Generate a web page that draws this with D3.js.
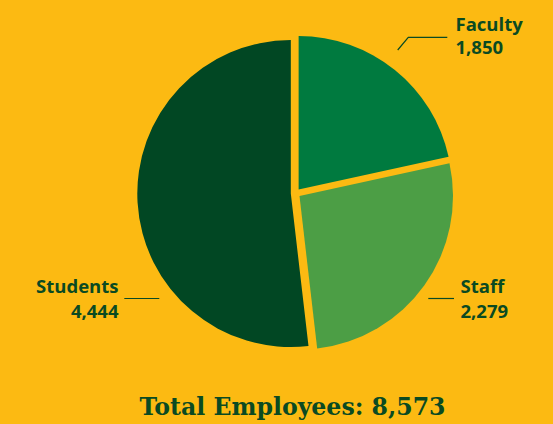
<!DOCTYPE html>
<html>
<head>
<meta charset="utf-8">
<script src="https://cdn.jsdelivr.net/npm/d3@7"></script>
<style>
  html, body { margin: 0; padding: 0; background: #FCBA12; }
  svg { display: block; }
</style>
</head>
<body>
<svg id="chart" width="553" height="424"></svg>
<script>
// ---- data ----
const categories = ["Faculty", "Staff", "Students"];
const values = [1850, 2279, 4444];
const valueLabels = ["1,850", "2,279", "4,444"];
const totalLabel = "Total Employees: 8,573";

// ---- styles ----
const bg = "#FCBA12";
const sliceColors = ["#007A3F", "#4C9E45", "#014723"];
const textColor = "#0A4A22";

const W = 553, H = 424;
const cx = 295.6, cy = 193.3, R = 153.5, explode = 4.8;

const svg = d3.select("#chart");
svg.append("rect").attr("width", W).attr("height", H).attr("fill", bg);

const data = categories.map((c, i) => ({ name: c, value: values[i], label: valueLabels[i], color: sliceColors[i] }));

const pie = d3.pie().value(d => d.value).sort(null).startAngle(0).endAngle(2 * Math.PI);
const arc = d3.arc().innerRadius(0).outerRadius(R);

const g = svg.append("g").attr("transform", `translate(${cx},${cy})`);
g.selectAll("path")
  .data(pie(data))
  .join("path")
  .attr("d", arc)
  .attr("fill", d => d.data.color)
  .attr("transform", d => {
    const a = (d.startAngle + d.endAngle) / 2;
    return `translate(${explode * Math.sin(a)},${-explode * Math.cos(a)})`;
  });

// ---- labels ----
const labelFont = "'Open Sans', sans-serif";
const fs = 18.5;
const labelSpecs = [
  { i: 0, x: 455.5, y1: 30.5, y2: 54, anchor: "start", line: [[397.7, 50], [408.3, 37.3], [447.3, 37.3]] },
  { i: 1, x: 460.5, y1: 293.3, y2: 317.7, anchor: "start", line: [[428.3, 298.5], [454, 298.5]] },
  { i: 2, x: 118.5, y1: 293.3, y2: 318.3, anchor: "end", line: [[124.3, 298.5], [159.3, 298.5]] }
];

labelSpecs.forEach(s => {
  const d = data[s.i];
  svg.append("path")
    .attr("d", d3.line()(s.line))
    .attr("fill", "none")
    .attr("stroke", textColor)
    .attr("stroke-width", 1.2);
  const t = svg.append("text")
    .attr("text-anchor", s.anchor)
    .attr("font-family", labelFont)
    .attr("font-weight", 700)
    .attr("font-size", fs)
    .attr("fill", textColor);
  t.append("tspan").attr("x", s.x).attr("y", s.y1).text(d.name);
  t.append("tspan").attr("x", s.x).attr("y", s.y2).text(d.label);
});

// ---- total ----
svg.append("text")
  .attr("x", 139.5).attr("y", 415)
  .attr("font-family", "'DejaVu Serif', serif")
  .attr("font-weight", 700)
  .attr("font-size", 25)
  .attr("fill", textColor)
  .attr("textLength", 306)
  .attr("lengthAdjust", "spacingAndGlyphs")
  .text(totalLabel);
</script>
</body>
</html>
